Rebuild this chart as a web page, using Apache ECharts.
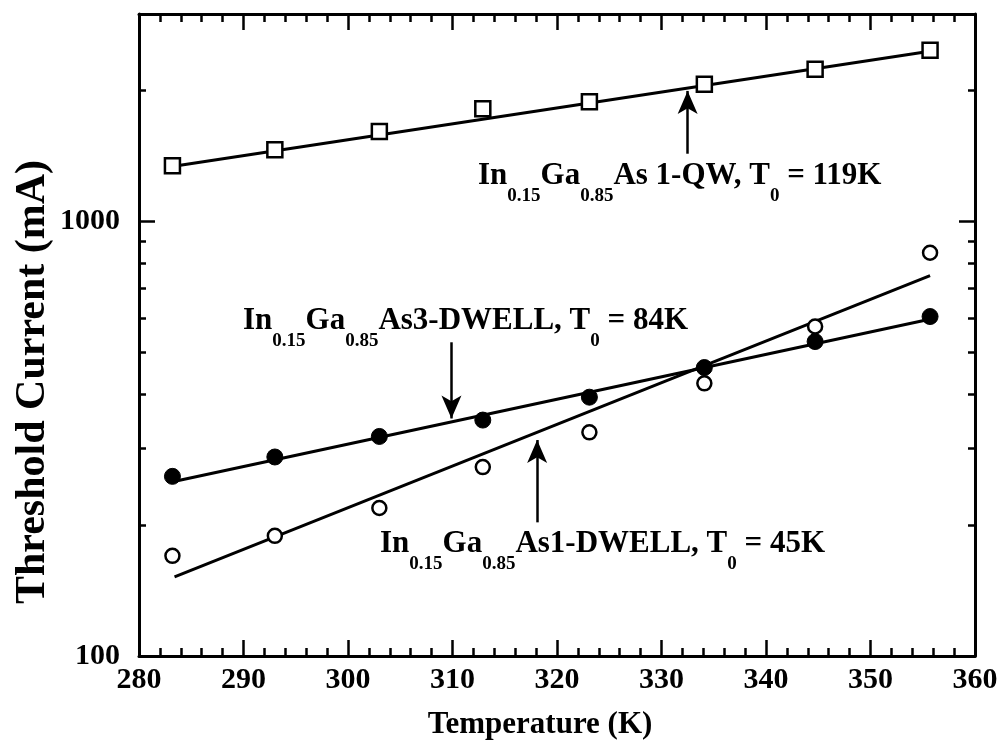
<!DOCTYPE html>
<html>
<head>
<meta charset="utf-8">
<script src="https://cdn.jsdelivr.net/npm/echarts@6/dist/echarts.min.js"></script>
<style>
  html, body { margin: 0; padding: 0; background: #fff; }
  #chart { width: 1006px; height: 745px; }
</style>
</head>
<body>
<div id="chart"></div>
<script>
// temperatures (K) of the measured points
var temps = [283.2, 293, 303, 312.9, 323.1, 334.1, 344.7, 355.7];
// threshold currents (mA)
var qwCurrent = [1343, 1461, 1610, 1815, 1884, 2068, 2239, 2477];
var dwell3Current = [259, 287, 320, 349, 394, 461, 529, 604];
var dwell1Current = [170, 189, 219, 272, 327, 424, 573, 847];
// fitted lines, end points
var qwFit = [[283, 1336], [356, 2470]];
var dwell3Fit = [[283, 251], [356, 598]];
var dwell1Fit = [[283.4, 152], [355.7, 750]];
// tick values
var yMajor = [100, 1000];
var yMinor = [200, 300, 400, 500, 600, 700, 800, 900, 2000];
// arrows [x, from, to]
var qwArrow = [332.5, 1431, 1996];
var dwell3Arrow = [309.9, 527, 352];
var dwell1Arrow = [318.1, 203, 314];

var FONT = "'Liberation Serif', 'Times New Roman', serif";

function pairs(xs, ys) {
    return xs.map(function (x, i) { return [x, ys[i]]; });
}

function arrowLine(a) {
    return {
        silent: true,
        symbol: ['none', 'arrow'],
        symbolSize: [15, 23],
        label: { show: false },
        lineStyle: { color: '#000', width: 2.5, type: 'solid', opacity: 1 },
        data: [[{ coord: [a[0], a[1]] }, { coord: [a[0], a[2]] }]]
    };
}

var chart = echarts.init(document.getElementById('chart'));

var axisLine = { show: true, lineStyle: { color: '#000', width: 3 } };

function xAxisDef(pos, labels) {
    return {
        type: 'value', position: pos, min: 280, max: 360, interval: 10,
        axisLine: axisLine,
        axisTick: { inside: true, length: 16, lineStyle: { color: '#000', width: 2.5 } },
        minorTick: { show: true, splitNumber: 5, length: 8, lineStyle: { color: '#000', width: 2.5 } },
        splitLine: { show: false },
        axisLabel: labels ? {
            margin: 9, color: '#000', fontSize: 30, fontWeight: 'bold', fontFamily: FONT
        } : { show: false }
    };
}

function yAxisDef(pos, ticks, len, labels, line) {
    return {
        type: 'log', logBase: 10, position: pos, min: 100, max: 3000,
        axisLine: line ? axisLine : { show: false },
        axisTick: { inside: true, length: len, customValues: ticks, lineStyle: { color: '#000', width: 2.5 } },
        splitLine: { show: false },
        axisLabel: labels ? {
            customValues: yMajor, margin: 19, color: '#000', fontSize: 30, fontWeight: 'bold', fontFamily: FONT,
            formatter: function (v) { return String(Math.round(v)); }
        } : { show: false }
    };
}

var filled = { color: '#000', borderColor: '#000', borderWidth: 1, opacity: 1 };
var hollow = { color: '#fff', borderColor: '#000', borderWidth: 2.5, opacity: 1 };

var option = {
    backgroundColor: '#fff',
    animation: false,
    grid: { left: 139, right: 31, top: 14, bottom: 89 },
    xAxis: [xAxisDef('bottom', true), xAxisDef('top', false)],
    yAxis: [
        yAxisDef('left', yMajor, 16, true, true),
        yAxisDef('left', yMinor, 7, false, false),
        yAxisDef('right', yMajor, 16, false, true),
        yAxisDef('right', yMinor, 7, false, false)
    ],
    series: [
        {
            type: 'line', data: qwFit, symbol: 'none', z: 2,
            lineStyle: { color: '#000', width: 3 },
            markLine: arrowLine(qwArrow)
        },
        {
            type: 'line', data: dwell3Fit, symbol: 'none', z: 2,
            lineStyle: { color: '#000', width: 3 },
            markLine: arrowLine(dwell3Arrow)
        },
        {
            type: 'line', data: dwell1Fit, symbol: 'none', z: 2,
            lineStyle: { color: '#000', width: 3 },
            markLine: arrowLine(dwell1Arrow)
        },
        {
            type: 'scatter', data: pairs(temps, qwCurrent), symbol: 'rect', symbolSize: 15, z: 3,
            itemStyle: hollow
        },
        {
            type: 'scatter', data: pairs(temps, dwell3Current), symbol: 'circle', symbolSize: 16, z: 3,
            itemStyle: filled
        },
        {
            type: 'scatter', data: pairs(temps, dwell1Current), symbol: 'circle', symbolSize: 14, z: 3,
            itemStyle: hollow
        }
    ]
};
chart.setOption(option);

// rich text styles for the labels with subscripts
var rich = {
    m: { fontSize: 31, fontWeight: 'bold', fontFamily: FONT, lineHeight: 31, verticalAlign: 'top', fill: '#000' },
    s: { fontSize: 19, fontWeight: 'bold', fontFamily: FONT, lineHeight: 46, verticalAlign: 'bottom', fill: '#000' }
};

function note(x, y, txt) {
    return {
        type: 'text', x: x, y: y, silent: true,
        style: { text: txt, rich: rich, fill: '#000', verticalAlign: 'top', align: 'left' }
    };
}

chart.setOption({
    graphic: [
        note(478, 160, '{m|In}{s|0.15}{m|Ga}{s|0.85}{m|As 1-QW, T}{s|0}{m| = 119K}'),
        note(243, 305, '{m|In}{s|0.15}{m|Ga}{s|0.85}{m|As3-DWELL, T}{s|0}{m| = 84K}'),
        note(380, 528, '{m|In}{s|0.15}{m|Ga}{s|0.85}{m|As1-DWELL, T}{s|0}{m| = 45K}'),
        {
            type: 'text', x: 540, y: 725, silent: true,
            style: {
                text: 'Temperature (K)', fill: '#000', align: 'center', verticalAlign: 'middle',
                font: 'bold 31px ' + FONT
            }
        },
        {
            type: 'text', x: 33, y: 382, rotation: Math.PI / 2, silent: true,
            style: {
                text: 'Threshold Current (mA)', fill: '#000', align: 'center', verticalAlign: 'middle',
                font: 'bold 42px ' + FONT
            }
        }
    ]
});
</script>
</body>
</html>
